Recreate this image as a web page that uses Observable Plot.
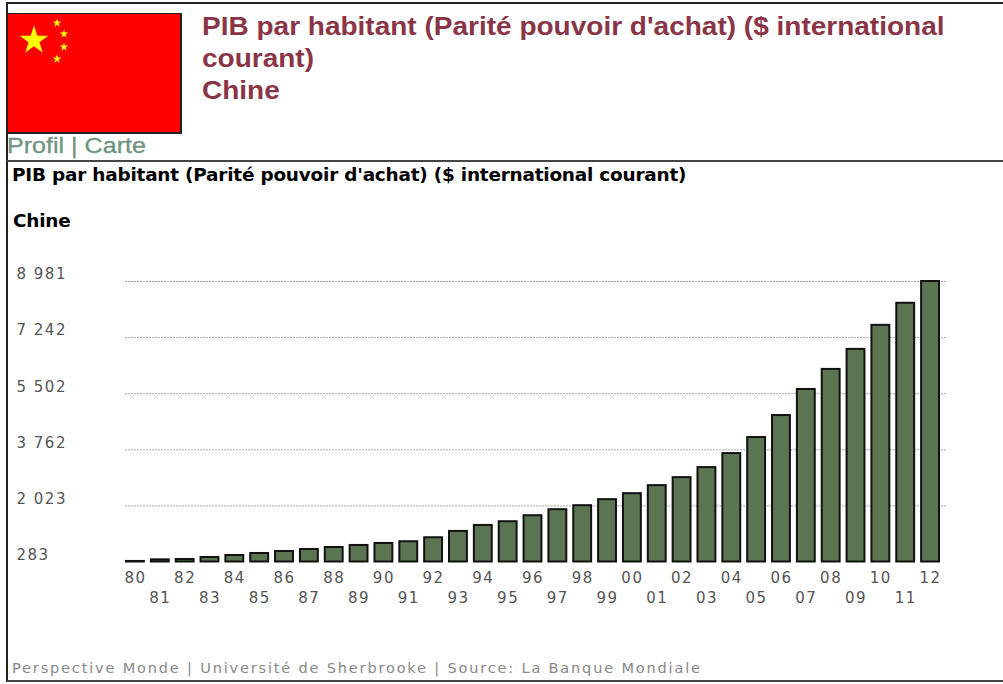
<!DOCTYPE html>
<html><head><meta charset="utf-8">
<script src="https://cdn.jsdelivr.net/npm/d3@7"></script>
<script src="https://cdn.jsdelivr.net/npm/@observablehq/plot@0.6"></script>
<style>
html,body{margin:0;padding:0;background:#fff;width:1003px;height:684px;overflow:hidden}
.a{position:absolute;white-space:nowrap;transform-origin:left top}
.line{position:absolute;background:#222}
#head{left:202px;top:11px;font:bold 25px/31.8px "Liberation Sans",Arial,sans-serif;color:#8a3547;transform:scaleX(1.12)}
#links{left:7px;top:133px;font:22px/26px "Liberation Sans",Arial,sans-serif;color:#6f937f;transform:scaleX(1.14);-webkit-text-stroke:.3px #6f937f}
#t1{left:12px;top:165px;font:bold 17px/20px "DejaVu Sans",sans-serif;color:#000;letter-spacing:-.2px;transform:scaleX(1.085)}
#t2{left:13px;top:211px;font:bold 17px/20px "DejaVu Sans",sans-serif;color:#000;letter-spacing:-.2px;transform:scaleX(1.085)}
#foot{left:12px;top:659px;font:14.5px/18px "DejaVu Sans",sans-serif;color:#888;letter-spacing:1.84px}
#chart{position:absolute;left:0;top:240px}
#flag{position:absolute;left:7px;top:13px}
</style></head><body>
<div class="line" style="left:6px;top:2px;width:997px;height:2px"></div>
<div class="line" style="left:6px;top:2px;width:2px;height:680px"></div>
<div class="line" style="left:7px;top:160px;width:996px;height:2px;background:#444"></div>
<div class="line" style="left:7px;top:680px;width:996px;height:2px;background:#444"></div>
<svg id="flag" width="175" height="121" viewBox="0 0 175 121">
<defs><polygon id="s" points="0,-1 .225,-.309 .951,-.309 .363,.118 .588,.809 0,.382 -.588,.809 -.363,.118 -.951,-.309 -.225,-.309"/></defs>
<rect x="0" y="0" width="174" height="120" fill="#f00" stroke="#222" stroke-width="2"/>
<g fill="#ff0">
<use href="#s" transform="translate(27,27.5) scale(15)"/>
<use href="#s" transform="translate(50,10) scale(4.5)"/>
<use href="#s" transform="translate(57,21) scale(4.5)"/>
<use href="#s" transform="translate(57,34) scale(4.5)"/>
<use href="#s" transform="translate(50,46) scale(4.5)"/>
</g></svg>
<div class="a" id="head">PIB par habitant (Parité pouvoir d'achat) ($ international<br>courant)<br>Chine</div>
<div class="a" id="links">Profil | Carte</div>
<div class="a" id="t1">PIB par habitant (Parité pouvoir d'achat) ($ international courant)</div>
<div class="a" id="t2">Chine</div>
<div id="chart"></div>
<div class="a" id="foot">Perspective Monde | Université de Sherbrooke | Source: La Banque Mondiale</div>
<script>
const years = ["80","81","82","83","84","85","86","87","88","89","90","91","92","93","94","95","96","97","98","99","00","01","02","03","04","05","06","07","08","09","10","11","12"];
const values = [300,350,361,423,485,547,609,671,733,796,858,911,1035,1231,1417,1532,1718,1905,2029,2216,2402,2651,2899,3210,3645,4142,4825,5633,6255,6876,7622,8306,8981];
const yTicks = [283,2023,3762,5502,7242,8981];
const evenYears = years.filter((_, i) => i % 2 === 0);
const oddYears = years.filter((_, i) => i % 2 === 1);
const rows = years.map((year, i) => ({year, value: values[i]}));
const fmt = d => d3.format(",")(d).replace(",", " ");
const axisFont = {fontSize: 15, fill: "#555"};
const chart = Plot.plot({
  width: 1003, height: 375,
  marginLeft: 125, marginRight: 57, marginTop: 41, marginBottom: 53.5,
  style: {background: "transparent", fontFamily: "'DejaVu Sans',sans-serif", letterSpacing: "1.5px"},
  x: {type: "band", domain: years, range: [125, 940], padding: 0.2, paddingOuter: 0, align: 0, round: false},
  y: {domain: [283, 8981]},
  marks: [
    Plot.ruleY(yTicks.slice(1), {stroke: "#aaa", strokeWidth: 1, strokeDasharray: "2 1"}),
    Plot.barY(rows, {x: "year", y1: 283, y2: "value", fill: "#5b7553", stroke: "#111", strokeWidth: 2, insetLeft: 1, insetRight: 1}),
    Plot.axisY(yTicks, {tickSize: 0, tickPadding: 0, dx: -109, dy: -7, textAnchor: "start", tickFormat: fmt, label: null, ...axisFont}),
    Plot.axisX(evenYears, {tickSize: 0, tickPadding: 10.5, label: null, ...axisFont}),
    Plot.axisX(oddYears, {tickSize: 0, tickPadding: 30.5, label: null, ...axisFont})
  ]
});
document.getElementById("chart").appendChild(chart);
</script>
</body></html>
